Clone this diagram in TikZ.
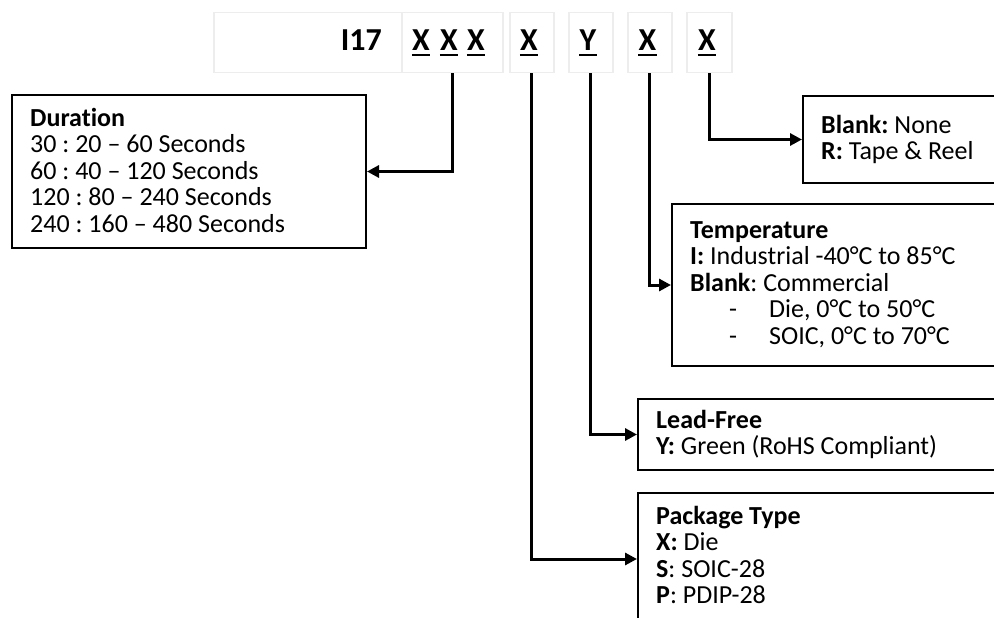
\documentclass[tikz,border=0pt]{standalone}
\usepackage{fontspec}
\setmainfont[Ligatures=NoCommon]{Carlito}
\frenchspacing
\usetikzlibrary{arrows.meta}
\definecolor{cellgray}{HTML}{EDEDED}
\begin{document}
\begin{tikzpicture}[x=1pt,y=-1pt,
  cell/.style={draw=cellgray, line width=1.5pt, inner sep=0pt, anchor=north west, minimum height=60pt},
  infobox/.style={draw=black, line width=2pt, inner sep=0pt, anchor=north west},
  conn/.style={line width=3pt, -{Triangle[length=12pt,width=12pt]}},
  txt/.style={inner sep=0pt, anchor=base west, font=\fontsize{26}{26.6}\selectfont},
  toptxt/.style={inner sep=0pt, anchor=base, font=\fontsize{32}{38}\selectfont\bfseries},
  uline/.style={line width=2pt}]
\useasboundingbox (0,0) rectangle (994,618);
\clip (0,0) rectangle (994,618);

% top strip
\node[cell, minimum width=188pt] (cpre) at (213,12) {};
\node[cell, minimum width=101pt] (cxxx) at (401,12) {};
\node[cell, minimum width=44pt] (cpkg) at (509,12) {};
\node[cell, minimum width=44pt] (clead) at (568,12) {};
\node[cell, minimum width=44pt] (ctemp) at (627,12) {};
\node[cell, minimum width=45pt] (ctape) at (686,12) {};

\node[toptxt, anchor=base east] (tI) at (382,51) {I17};
\node[toptxt] (x1) at (421,51) {X};
\node[toptxt] (x2) at (449,51) {X};
\node[toptxt] (x3) at (476,51) {X};
\node[toptxt] (x4) at (529,51) {X};
\node[toptxt] (y5) at (588,51) {Y};
\node[toptxt] (x6) at (647.5,51) {X};
\node[toptxt] (x7) at (707,51) {X};
\foreach \n in {x1,x2,x3,x4,y5,x6,x7}
  \draw[uline] ([yshift=-4.5pt]\n.base west) -- ([yshift=-4.5pt]\n.base east);

% boxes
\node[infobox, minimum width=354pt, minimum height=153pt] (dur) at (11,94) {};
\node[infobox, minimum width=220pt, minimum height=87pt] (tape) at (802,95) {};
\node[infobox, minimum width=340pt, minimum height=162pt] (temp) at (671,203) {};
\node[infobox, minimum width=380pt, minimum height=71pt] (lead) at (637,398) {};
\node[infobox, minimum width=380pt, minimum height=132pt] (pkg) at (637,492) {};

% texts
\node[txt] (tdur) at (30,126) {\vtop{%
  \hbox{\textbf{Duration}}
  \hbox{30 : 20 – 60 Seconds}
  \hbox{60 : 40 – 120 Seconds}
  \hbox{120 : 80 – 240 Seconds}
  \hbox{240 : 160 – 480 Seconds}}};
\node[txt] (ttape) at (821,133) {\vtop{%
  \hbox{\textbf{Blank:} None}
  \hbox{\textbf{R:} Tape \& Reel}}};
\node[txt] (ttemp) at (690,238) {\vtop{%
  \hbox{\textbf{Temperature}}
  \hbox{\textbf{I:} Industrial -40°C to 85°C}
  \hbox{\textbf{Blank}: Commercial}
  \hbox{\kern39pt\rlap{-}\kern40pt Die, 0°C to 50°C}
  \hbox{\kern39pt\rlap{-}\kern40pt SOIC, 0°C to 70°C}}};
\node[txt] (tlead) at (656,428) {\vtop{%
  \hbox{\textbf{Lead-Free}}
  \hbox{\textbf{Y:} Green (RoHS Compliant)}}};
\node[txt] (tpkg) at (656,524) {\vtop{%
  \hbox{\textbf{Package Type}}
  \hbox{\textbf{X:} Die}
  \hbox{\textbf{S}: SOIC-28}
  \hbox{\textbf{P}: PDIP-28}}};

% connectors
\draw[conn] (cxxx.south) |- (dur.east);
\draw[conn] (cpkg.south) |- (pkg.west);
\draw[conn] (clead.south) |- (lead.west);
\draw[conn] (ctemp.south) |- (temp.west);
\draw[conn] (ctape.south) |- (tape.west);
\end{tikzpicture}
\end{document}
